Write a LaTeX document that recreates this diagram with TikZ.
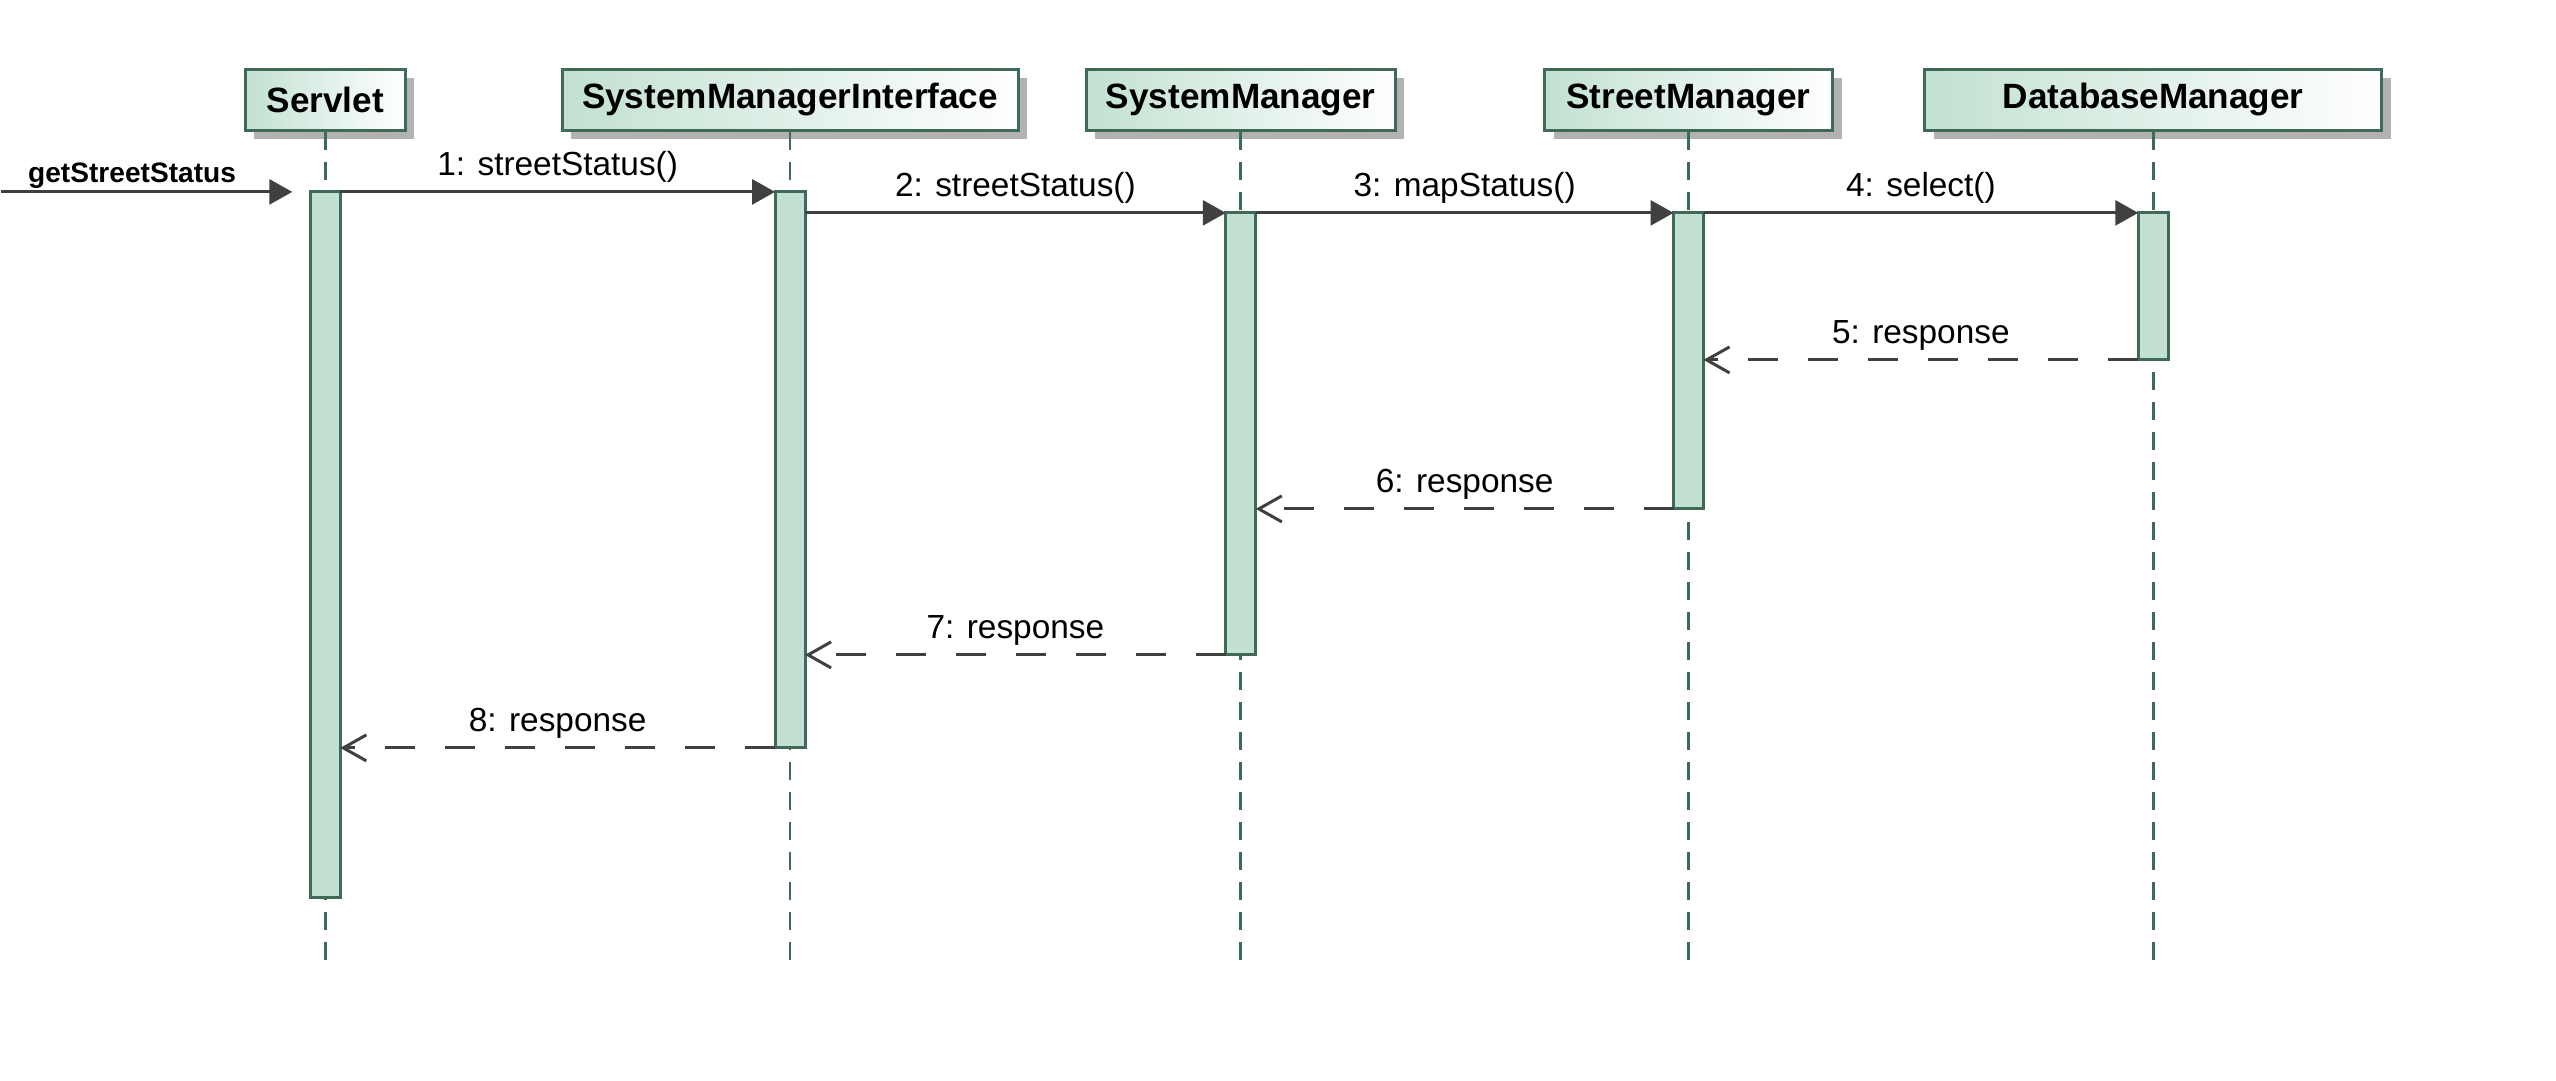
\documentclass[tikz,border=0pt]{standalone}
\usepackage{fontspec}
\setmainfont{Liberation Sans}
\usetikzlibrary{arrows.meta,shadows}
\definecolor{umlgreen}{HTML}{C2E1D2}
\definecolor{umlline}{HTML}{3F6A55}
\definecolor{msggray}{HTML}{404040}
\begin{document}
\begin{tikzpicture}[x=0.01cm, y=-0.01cm,
			lifebox/.style = {draw=umlline, line width=0.85pt, left color=umlgreen, right color=white,
				minimum height=0.61cm, inner sep=0pt, font=\bfseries\fontsize{10}{12}\selectfont,
				drop shadow={shadow xshift=0.09cm, shadow yshift=-0.09cm, fill=black!30, opacity=1}},
			act/.style = {draw=umlline, fill=umlgreen, line width=0.85pt, minimum width=0.3cm,
				inner sep=0pt, outer sep=0pt, anchor=north},
			lifeline/.style = {umlline, line width=0.8pt, dash pattern=on 0.18cm off 0.12cm},
			msg/.style = {msggray, line width=0.85pt, -{Triangle[length=0.23cm, width=0.25cm]}},
			ret/.style = {msggray, line width=0.85pt, dash pattern=on 0.3cm off 0.3cm,
				-{Straight Barb[length=0.23cm, width=0.26cm]}},
			lbl/.style = {midway, anchor=base, yshift=0.16cm, text=black, font=\fontsize{9.5}{11}\selectfont}]
			
			\fill[white] (0,0) rectangle (2556,1081);
			
			% participants and lifelines
			\foreach \n/\x/\w/\t in {p1/324/1.6cm/Servlet, p2/789/4.56cm/SystemManagerInterface,
				p3/1240/3.09cm/SystemManager, p4/1688/2.88cm/StreetManager, p5/2153/4.57cm/DatabaseManager} {
				\node[lifebox, minimum width=\w] (\n) at (\x,100) {\t};
				\coordinate (e-\n) at (\x,962);
				\draw[lifeline] (\n.south) -- (e-\n);
			}
			
			% activations
			\node[act, minimum height=7.06cm] (a1) at (324,192) {};
			\node[act, minimum height=5.56cm] (a2) at (789,192) {};
			\node[act, minimum height=4.42cm] (a3) at (1240,213) {};
			\node[act, minimum height=2.96cm] (a4) at (1688,213) {};
			\node[act, minimum height=1.47cm] (a5) at (2153,213) {};
			
			% found message
			\coordinate (in) at (0,192);
			\node[anchor=base west, inner sep=0pt, font=\bfseries\fontsize{8}{10}\selectfont] (call) at (26,183) {getStreetStatus};
			\draw[msg] (in) -- ([xshift=-0.18cm]a1.north west);
			
			% calls
			\draw[msg] (a1.north east) -- (a2.north west) node[lbl] {1: streetStatus()};
			\draw[msg] (a2.east |- a3.north) -- (a3.north west) node[lbl] {2: streetStatus()};
			\draw[msg] (a3.north east) -- (a4.north west) node[lbl] {3: mapStatus()};
			\draw[msg] (a4.north east) -- (a5.north west) node[lbl] {4: select()};
			
			% returns
			\draw[ret] (a5.south west) -- (a4.east |- a5.south) node[lbl] {5: response};
			\draw[ret] (a4.south west) -- (a3.east |- a4.south) node[lbl] {6: response};
			\draw[ret] (a3.south west) -- (a2.east |- a3.south) node[lbl] {7: response};
			\draw[ret] (a2.south west) -- (a1.east |- a2.south) node[lbl] {8: response};
			\end{tikzpicture}
\end{document}
